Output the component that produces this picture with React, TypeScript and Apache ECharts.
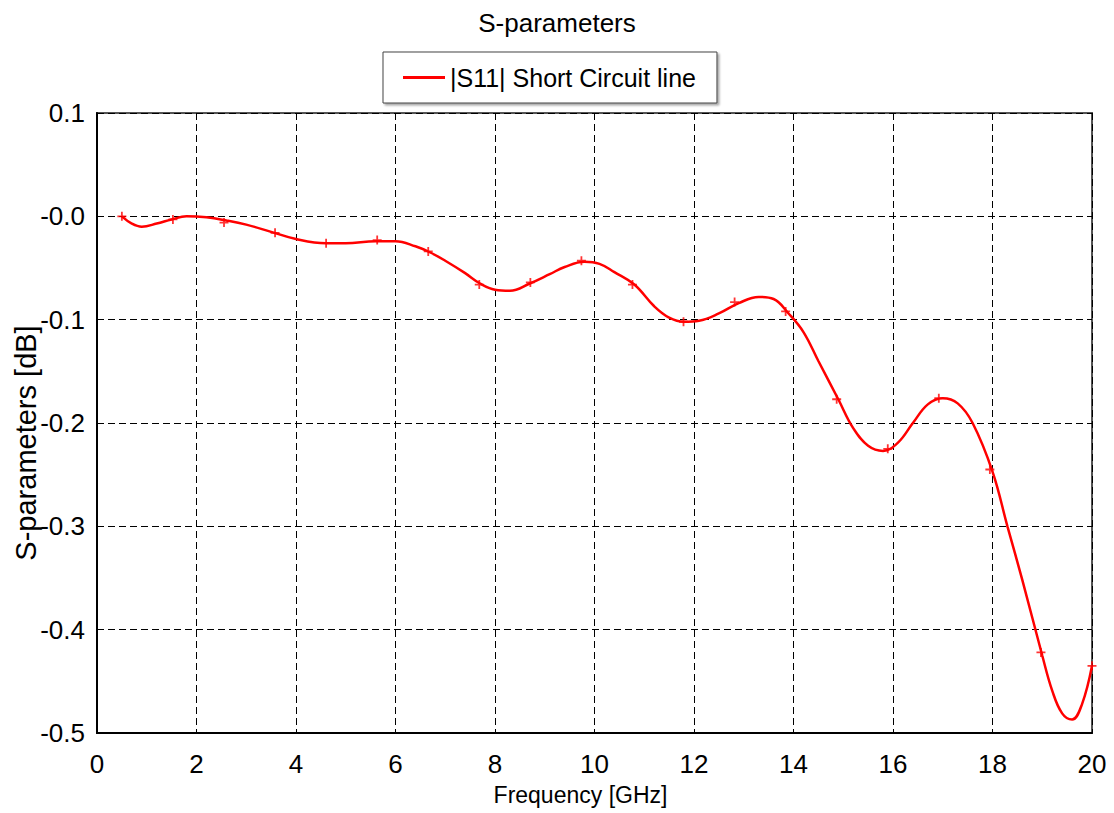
import React, { useEffect, useRef } from "react";
import * as echarts from "echarts";

const TITLE = "S-parameters";
const SERIES_NAME = "|S11| Short Circuit line";
const X_NAME = "Frequency [GHz]";
const Y_NAME = "S-parameters [dB]";

const freq = [
  0.5, 0.7, 0.9, 1.2, 1.5, 1.8, 2.2, 2.6, 3.0, 3.5, 4.0, 4.6, 5.0, 5.6, 6.0, 6.4, 6.7, 7.0, 7.4, 7.7,
  8.0, 8.3, 8.7, 9.1, 9.4, 9.8, 10.1, 10.4, 10.8, 11.2, 11.5, 11.8, 12.1, 12.5, 12.9, 13.3, 13.6,
  13.9, 14.2, 14.5, 14.9, 15.2, 15.5, 15.8, 16.1, 16.4, 16.7, 17.0, 17.3, 17.6, 18.0, 18.3, 18.6,
  19.0, 19.2, 19.4, 19.6, 19.8, 20.0,
];
const s11 = [
  0.0, -0.007, -0.01, -0.007, -0.003, 0.0, -0.001, -0.004, -0.008, -0.015, -0.022, -0.026, -0.026,
  -0.024, -0.024, -0.029, -0.035, -0.043, -0.055, -0.065, -0.071, -0.072, -0.065, -0.056, -0.049,
  -0.044, -0.046, -0.054, -0.066, -0.087, -0.098, -0.102, -0.101, -0.094, -0.084, -0.078, -0.08,
  -0.094, -0.112, -0.14, -0.177, -0.205, -0.222, -0.227, -0.219, -0.2, -0.182, -0.176, -0.181,
  -0.2, -0.247, -0.3, -0.352, -0.425, -0.459, -0.481, -0.487, -0.472, -0.435,
];

const markerFreq = [
  0.5, 1.526, 2.553, 3.579, 4.605, 5.632, 6.658, 7.684, 8.711, 9.737, 10.763, 11.789, 12.816,
  13.842, 14.868, 15.895, 16.921, 17.947, 18.974, 20.0,
];
const markerS11 = [
  0.0, -0.003, -0.006, -0.016, -0.026, -0.023, -0.034, -0.066, -0.064, -0.043, -0.066, -0.102,
  -0.083, -0.092, -0.177, -0.225, -0.176, -0.245, -0.422, -0.435,
];

const FONT = "'Liberation Sans', Arial, sans-serif";

export default function App() {
  const ref = useRef<HTMLDivElement>(null);
  useEffect(() => {
    if (!ref.current) return;
    const chart = echarts.init(ref.current, null, { renderer: "svg" });
    chart.setOption({
      animation: false,
      backgroundColor: "#fff",
      textStyle: { fontFamily: FONT, color: "#000" },
      title: {
        text: TITLE,
        left: "center",
        top: 5,
        textStyle: { fontFamily: FONT, fontSize: 26, fontWeight: "normal", color: "#000" },
      },
      legend: {
        left: 383,
        top: 52,
        data: [{ name: SERIES_NAME, icon: "rect" }],
        itemWidth: 42,
        itemHeight: 3,
        padding: [13, 21, 13, 20],
        borderColor: "#444",
        borderWidth: 1,
        backgroundColor: "#fff",
        shadowColor: "rgba(0,0,0,0.35)",
        shadowOffsetX: 2,
        shadowOffsetY: 2,
        shadowBlur: 2,
        textStyle: { fontFamily: FONT, fontSize: 25, color: "#000" },
      },
      grid: {
        left: 97,
        top: 113,
        width: 995,
        height: 620,
        outerBoundsMode: "none",
        containLabel: false,
        show: true,
        borderColor: "#555",
        borderWidth: 2,
        backgroundColor: "#fff",
      },
      xAxis: {
        type: "value",
        min: 0,
        max: 20,
        interval: 2,
        name: X_NAME,
        nameLocation: "middle",
        nameGap: 50,
        nameMoveOverlap: false,
        nameTextStyle: { fontFamily: FONT, fontSize: 23, color: "#000", padding: [0, 28, 0, 0] },
        axisLine: { show: true, onZero: false, lineStyle: { color: "#000", width: 2 } },
        axisTick: { show: false },
        axisLabel: { margin: 18, fontFamily: FONT, fontSize: 26, color: "#000" },
        splitLine: { show: true, lineStyle: { color: "#000", type: [7, 4], width: 1 } },
      },
      yAxis: {
        type: "value",
        min: -0.5,
        max: 0.1,
        interval: 0.1,
        name: Y_NAME,
        nameLocation: "middle",
        nameGap: 57,
        nameMoveOverlap: false,
        nameTextStyle: { fontFamily: FONT, fontSize: 29, color: "#000", padding: [0, 40, 0, 0] },
        axisLine: { show: true, onZero: false, lineStyle: { color: "#000", width: 2 } },
        axisTick: { show: false },
        axisLabel: {
          margin: 12,
          fontFamily: FONT,
          fontSize: 26,
          color: "#000",
          formatter: (v: number) => (Math.abs(v) < 1e-9 ? "-0.0" : v.toFixed(1)),
        },
        splitLine: { show: true, lineStyle: { color: "#000", type: [7, 4], width: 1 } },
      },
      series: [
        {
          name: SERIES_NAME,
          type: "line",
          data: freq.map((f, i) => [f, s11[i]]),
          smooth: 0.4,
          showSymbol: false,
          symbol: "none",
          lineStyle: { color: "#ff0000", width: 2.5 },
          itemStyle: { color: "#ff0000" },
        },
        {
          name: "markers",
          type: "scatter",
          data: markerFreq.map((f, i) => [f, markerS11[i]]),
          symbol: "path://M4,0h2v10h-2zM0,4h10v2h-10z",
          symbolSize: 9,
          itemStyle: { color: "#ff0000" },
        },
      ],
    });
    return () => chart.dispose();
  }, []);
  return (
    <div
      ref={ref}
      style={{ position: "absolute", left: 0, top: 0, width: 1114, height: 813 }}
    />
  );
}
